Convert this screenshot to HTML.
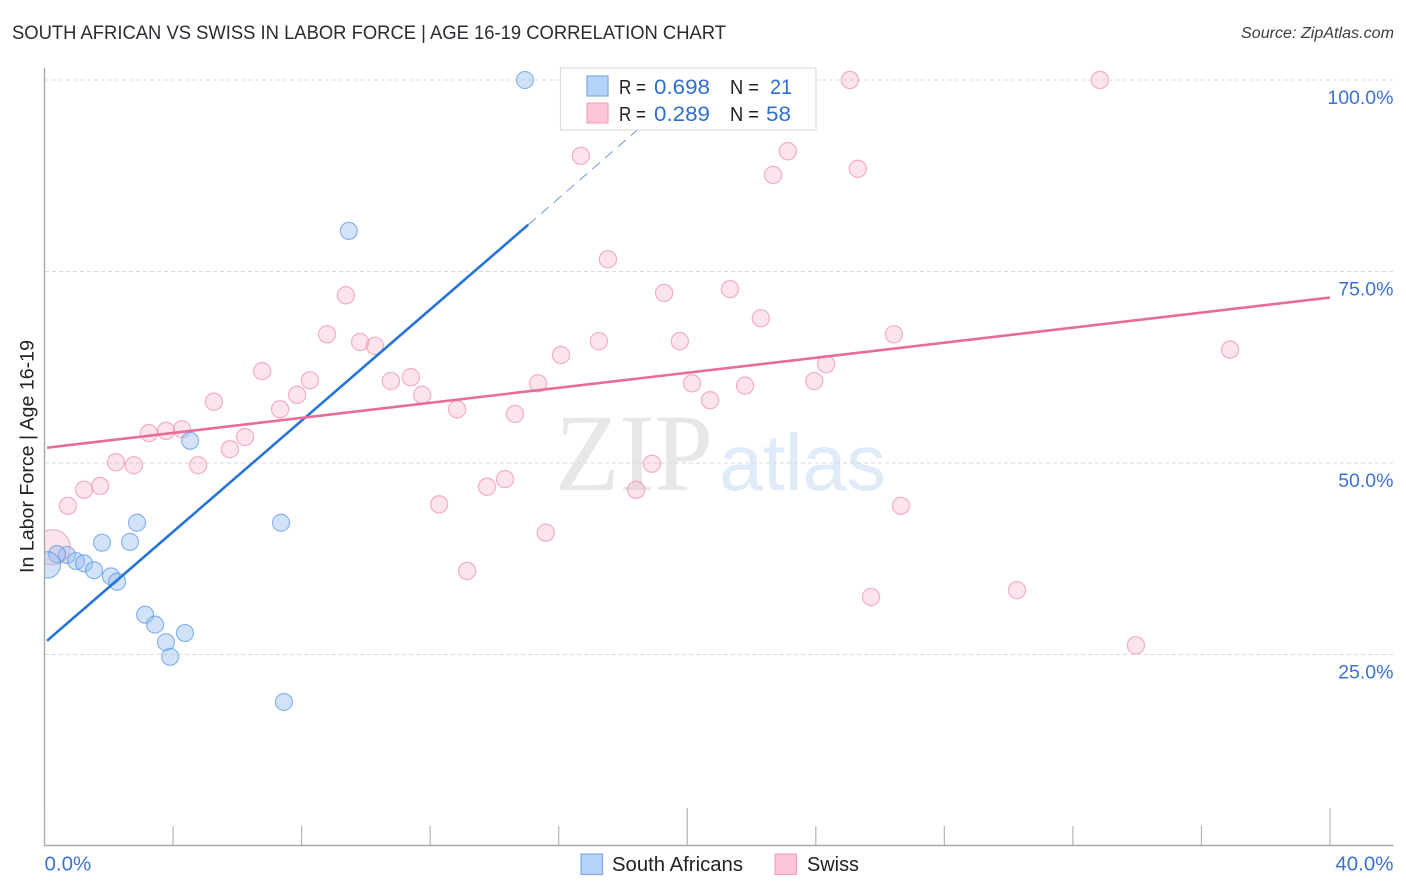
<!DOCTYPE html>
<html lang="en">
<head>
<meta charset="utf-8">
<title>South African vs Swiss in Labor Force | Age 16-19 Correlation Chart</title>
<style>
html,body{margin:0;padding:0;background:#fff;}
body{width:1406px;height:892px;overflow:hidden;}
svg{display:block;font-family:"Liberation Sans",sans-serif;}
</style>
</head>
<body>
<svg id="chart" xmlns="http://www.w3.org/2000/svg" width="1406" height="892" viewBox="0 0 1406 892">
  <defs>
    <clipPath id="plot-clip"><rect x="45" y="60" width="1349" height="786"/></clipPath>
  </defs>
  <text x="12" y="39" font-size="19.5" fill="#2b2b33" textLength="714" lengthAdjust="spacingAndGlyphs">SOUTH AFRICAN VS SWISS IN LABOR FORCE | AGE 16-19 CORRELATION CHART</text>
  <text x="1394" y="38" font-size="15.5" font-style="italic" fill="#3c3c44" text-anchor="end" textLength="153" lengthAdjust="spacingAndGlyphs">Source: ZipAtlas.com</text>

  <g>
    <text x="555" y="490" font-family="'Liberation Serif',serif" font-size="110" fill="#e7e7e7" textLength="158" lengthAdjust="spacingAndGlyphs">ZIP</text>
    <text x="719" y="490" font-size="80" fill="#e0ebfa" textLength="167" lengthAdjust="spacingAndGlyphs">atlas</text>
  </g>

  <g id="grid"></g>
  <g id="axes"></g>
  <g id="points" clip-path="url(#plot-clip)"></g>
  <g id="trends"></g>

  <text transform="translate(33.5,573) rotate(-90)" font-size="19.5" fill="#222" textLength="233" lengthAdjust="spacingAndGlyphs">In Labor Force | Age 16-19</text>

  <g>
    <rect x="560.5" y="68" width="255.5" height="62" fill="#fff" fill-opacity="0.92" stroke="#dcdcdc" stroke-width="1.2"/>
    <rect x="587" y="76" width="21" height="20" fill="#b5d2f8" stroke="#7fa9e2" stroke-width="1.2"/>
    <rect x="587" y="103" width="21" height="20" fill="#fcc6d8" stroke="#f0a3bf" stroke-width="1.2"/>
    <g font-size="20" fill="#222">
      <text x="619" y="94" textLength="27" lengthAdjust="spacingAndGlyphs">R =</text>
      <text x="730" y="94" textLength="29" lengthAdjust="spacingAndGlyphs">N =</text>
      <text x="619" y="121" textLength="27" lengthAdjust="spacingAndGlyphs">R =</text>
      <text x="730" y="121" textLength="29" lengthAdjust="spacingAndGlyphs">N =</text>
    </g>
    <g font-size="21.5" fill="#2f6fd0">
      <text x="654" y="94" textLength="56" lengthAdjust="spacingAndGlyphs">0.698</text>
      <text x="770" y="94" textLength="22" lengthAdjust="spacingAndGlyphs">21</text>
      <text x="654" y="121" textLength="56" lengthAdjust="spacingAndGlyphs">0.289</text>
      <text x="766" y="121" textLength="25" lengthAdjust="spacingAndGlyphs">58</text>
    </g>
  </g>

  <g>
    <g>
      <rect x="581" y="854" width="21.5" height="20.5" fill="#b5d2f8" stroke="#7fa9e2" stroke-width="1.2"/>
      <text x="612" y="871" font-size="20" fill="#222" textLength="131" lengthAdjust="spacingAndGlyphs">South Africans</text>
    </g>
    <g>
      <rect x="775" y="854" width="21.5" height="20.5" fill="#fcc6d8" stroke="#f0a3bf" stroke-width="1.2"/>
      <text x="807" y="871" font-size="20" fill="#222" textLength="52" lengthAdjust="spacingAndGlyphs">Swiss</text>
    </g>
  </g>
</svg>
<script>
const yTickValues = [100, 75, 50, 25];
const yTickLabels = ["100.0%", "75.0%", "50.0%", "25.0%"];
const xTickValues = [0, 4, 8, 12, 16, 20, 24, 28, 32, 36, 40];
const xMajorTickValues = [0, 20, 40];
const xEndValues = [0, 40];
const xEndLabels = ["0.0%", "40.0%"];

const southAfricanX = [14.95, 9.47, 4.53, 7.36, 2.88, 1.79, 2.66, 0.70, 0.39, 0.98, 1.23, 1.54, 2.07, 2.26, 3.13, 3.44, 4.37, 3.78, 3.91, 7.45, 0.09];
const southAfricanY = [100, 80.3, 52.9, 42.2, 42.2, 39.6, 39.7, 38.0, 38.1, 37.2, 36.9, 36.0, 35.2, 34.5, 30.2, 28.9, 27.8, 26.6, 24.7, 18.8, 36.7];
const southAfricanWeight = [1, 1, 1, 1, 1, 1, 1, 1, 1, 1, 1, 1, 1, 1, 1, 1, 1, 1, 1, 1, 1.55];

const swissX = [25.06, 32.84, 16.69, 23.13, 22.67, 25.31, 17.53, 9.38, 19.28, 21.33, 22.29, 8.79, 26.43, 9.82, 10.28, 17.25, 19.77, 16.07, 36.89, 6.77, 24.32, 11.40, 10.78, 8.26, 15.36, 20.15, 21.80, 23.95, 7.86, 11.75, 20.71, 5.27, 7.33, 12.84, 14.64, 3.25, 3.78, 4.28, 6.24, 5.77, 4.78, 2.22, 2.78, 18.90, 14.33, 13.77, 18.41, 1.23, 1.73, 0.73, 12.28, 26.65, 15.60, 13.15, 25.72, 30.26, 33.96, 0.25];
const swissY = [100, 100, 90.1, 90.7, 87.6, 88.4, 76.6, 71.9, 72.2, 72.7, 68.9, 66.8, 66.8, 65.8, 65.3, 65.9, 65.9, 64.1, 64.8, 62.0, 62.9, 61.2, 60.7, 60.8, 60.4, 60.4, 60.1, 60.7, 58.9, 58.9, 58.2, 58.0, 57.0, 57.0, 56.4, 53.9, 54.2, 54.4, 53.4, 51.8, 49.7, 50.1, 49.7, 49.9, 47.9, 46.9, 46.5, 46.5, 47.0, 44.4, 44.6, 44.4, 40.9, 35.9, 32.5, 33.4, 26.2, 39.0];
const swissWeight = [1, 1, 1, 1, 1, 1, 1, 1, 1, 1, 1, 1, 1, 1, 1, 1, 1, 1, 1, 1, 1, 1, 1, 1, 1, 1, 1, 1, 1, 1, 1, 1, 1, 1, 1, 1, 1, 1, 1, 1, 1, 1, 1, 1, 1, 1, 1, 1, 1, 1, 1, 1, 1, 1, 1, 1, 1, 2.05];

const southAfricanTrendX = [0.08, 15.05];
const southAfricanTrendY = [26.8, 81.1];
const southAfricanProjectedX = [15.05, 20.1];
const southAfricanProjectedY = [81.1, 99.5];
const swissTrendX = [0.08, 40];
const swissTrendY = [52.0, 71.6];

const NS = "http://www.w3.org/2000/svg";
const xScale = v => 44.5 + v * (1285.5 / 40);
const yScale = v => 846 - v * 7.66;

function make(tag, parent, attrs) {
  const el = document.createElementNS(NS, tag);
  Object.keys(attrs).forEach(k => el.setAttribute(k, attrs[k]));
  parent.appendChild(el);
  return el;
}

const grid = document.getElementById("grid");
const axes = document.getElementById("axes");
const points = document.getElementById("points");
const trends = document.getElementById("trends");

yTickValues.forEach((v, i) => {
  const line = make("line", grid, {x1: 45, x2: 1393, y1: yScale(v), y2: yScale(v), stroke: "#dadada", "stroke-width": 1, "stroke-dasharray": "4 3"});
  
  
  const label = make("text", axes, {x: 1393.5, y: yScale(v) + 24, "font-size": 19.5, fill: "#3c72d3", "text-anchor": "end"});
  
  
  label.textContent = yTickLabels[i];
});

const yAxis = make("line", axes, {x1: 44.5, x2: 44.5, y1: 68, y2: 846, stroke: "#a8a8a8", "stroke-width": 1.4});


const xAxis = make("line", axes, {x1: 44, x2: 1393.5, y1: 845.5, y2: 845.5, stroke: "#a8a8a8", "stroke-width": 1.4});



xTickValues.forEach(v => {
  const top = xMajorTickValues.includes(v) ? 808 : 826;
  const tick = make("line", axes, {x1: xScale(v), x2: xScale(v), y1: top, y2: 845, stroke: "#b4b4b4", "stroke-width": 1.2});
  
  
});

xEndValues.forEach((v, i) => {
  const label = make("text", axes, {x: i === 0 ? xScale(v) : 1393.5, y: 870.5, "font-size": 20.5, fill: "#3c72d3", "text-anchor": i === 0 ? "start" : "end"});
  
  
  label.textContent = xEndLabels[i];
});

swissX.forEach((v, i) => {
  const dot = make("circle", points, {cx: xScale(v), cy: yScale(swissY[i]), r: 8.6 * swissWeight[i], fill: "#f8b4c8", "fill-opacity": 0.36, stroke: "#ea85a8", "stroke-opacity": 0.62, "stroke-width": 1.2});
  
  
});

southAfricanX.forEach((v, i) => {
  const dot = make("circle", points, {cx: xScale(v), cy: yScale(southAfricanY[i]), r: 8.5 * southAfricanWeight[i], fill: "#93bcf0", "fill-opacity": 0.42, stroke: "#5a96e1", "stroke-opacity": 0.68, "stroke-width": 1.2});
  
  
});

const projected = make("line", trends, {x1: xScale(southAfricanProjectedX[0]), y1: yScale(southAfricanProjectedY[0]), x2: xScale(southAfricanProjectedX[1]), y2: yScale(southAfricanProjectedY[1]), stroke: "#6f96dc", "stroke-width": 1, "stroke-dasharray": "10 7"});



const blueTrend = make("line", trends, {x1: xScale(southAfricanTrendX[0]), y1: yScale(southAfricanTrendY[0]), x2: xScale(southAfricanTrendX[1]), y2: yScale(southAfricanTrendY[1]), stroke: "#2774d9", "stroke-width": 2.6});



const pinkTrend = make("line", trends, {x1: xScale(swissTrendX[0]), y1: yScale(swissTrendY[0]), x2: xScale(swissTrendX[1]), y2: yScale(swissTrendY[1]), stroke: "#e86c9b", "stroke-width": 2.6});


</script>
</body>
</html>
